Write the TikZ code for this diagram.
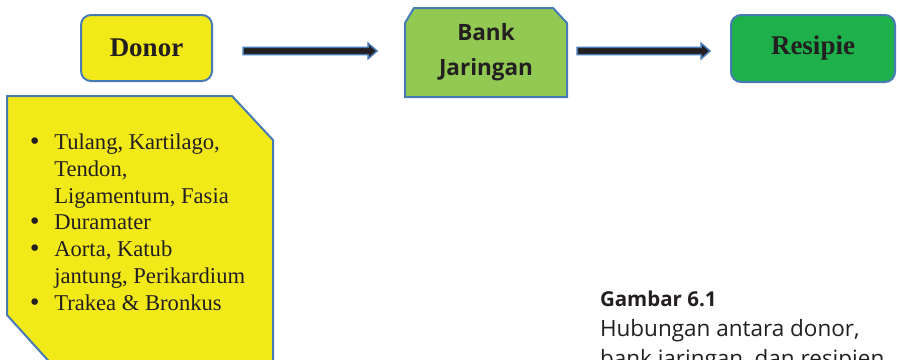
\documentclass[tikz,border=0pt]{standalone}
\usepackage{fontspec}
\setmainfont{Liberation Serif}
\newfontfamily\capfont{Open Sans}
\newfontfamily\dotfont{DejaVu Sans}
\usetikzlibrary{calc,backgrounds}
\definecolor{boxyellow}{RGB}{242,234,24}
\definecolor{boxlight}{RGB}{146,201,82}
\definecolor{boxgreen}{RGB}{30,176,75}
\definecolor{edgeblue}{RGB}{72,122,180}
\definecolor{inkdark}{RGB}{35,31,32}
\newcommand\fatarrow[2]{%
  \draw[fatarrowstyle]
    ($(#1)+(0,-3.7)$) -- ($(#2)+(-9,-3.7)$) -- ($(#2)+(-9,-7.8)$) -- (#2)
    -- ($(#2)+(-9,7.8)$) -- ($(#2)+(-9,3.7)$) -- ($(#1)+(0,3.7)$) -- cycle;}
\newcommand\listdot{{\dotfont\char"2022}}
\begin{document}
\begin{tikzpicture}[x=1pt,y=-1pt,
  boxline/.style={draw=edgeblue,line width=2pt,line join=miter},
  roundbox/.style={boxline,rounded corners=10pt,inner sep=0pt,text=inkdark,
    font=\fontsize{27}{30}\selectfont\bfseries},
  fatarrowstyle/.style={fill=inkdark,draw=edgeblue,line width=1.5pt,line join=miter},
  plaintext/.style={inner sep=0pt,outer sep=0pt,text=inkdark}]
\useasboundingbox (0,0) rectangle (897,359);
\clip (0,0) rectangle (897,359);

% top row
\node[roundbox,fill=boxyellow,minimum width=131pt,minimum height=66pt] (donor) at (146.5,48) {Donor\hspace{4pt}};
\node[plaintext,minimum width=162pt,minimum height=89pt,align=center,
  font=\capfont\fontsize{22.5}{35}\selectfont\bfseries] (bank) at (486,52.5) {Bank\\Jaringan};
\begin{scope}[on background layer]
  \draw[boxline,fill=boxlight] (bank.south west) -- ($(bank.north west)+(0,15)$)
    -- ($(bank.north west)+(9,0)$) -- ($(bank.north east)+(-14,0)$)
    -- ($(bank.north east)+(0,15)$) -- (bank.south east) -- cycle;
\end{scope}
\node[roundbox,fill=boxgreen,minimum width=164pt,minimum height=67pt] (resipie) at (813,48.5) {Resipie\hspace{10pt}};

% arrows
\coordinate (a1s) at ($(donor.east)+(30,3)$);
\coordinate (a1e) at ($(bank.west)+(-28,-1.5)$);
\coordinate (a2s) at ($(bank.east)+(10,-1.5)$);
\coordinate (a2e) at ($(resipie.west)+(-20,2.5)$);
\fatarrow{a1s}{a1e}
\fatarrow{a2s}{a2e}

% list box
\draw[boxline,fill=boxyellow] (7,96) -- (232,96) -- (273,140) -- (273,420)
  -- (102,420) -- (7,315) -- cycle;
\node[plaintext,anchor=base west,font=\fontsize{22.6}{26.8}\selectfont] (list) at (28,149.5)
{\begin{tabular}[t]{@{}l@{\hskip 13pt}l@{}}
\listdot & Tulang, Kartilago,\\
 & Tendon,\\
 & Ligamentum, Fasia\\
\listdot & Duramater\\
\listdot & Aorta, Katub\\
 & jantung, Perikardium\\
\listdot & Trakea \& Bronkus
\end{tabular}};

% caption
\node[plaintext,anchor=base west,font=\capfont\fontsize{20.5}{30}\selectfont\bfseries] (captitle) at (600,306.5) {Gambar 6.1};
\node[plaintext,anchor=base west,font=\capfont\fontsize{22.5}{30}\selectfont] (captext) at (600,336) {Hubungan antara donor,};
\node[plaintext,anchor=base west,font=\capfont\fontsize{22.5}{30}\selectfont] (captext2) at (600,366) {bank jaringan, dan resipien};
\end{tikzpicture}
\end{document}
